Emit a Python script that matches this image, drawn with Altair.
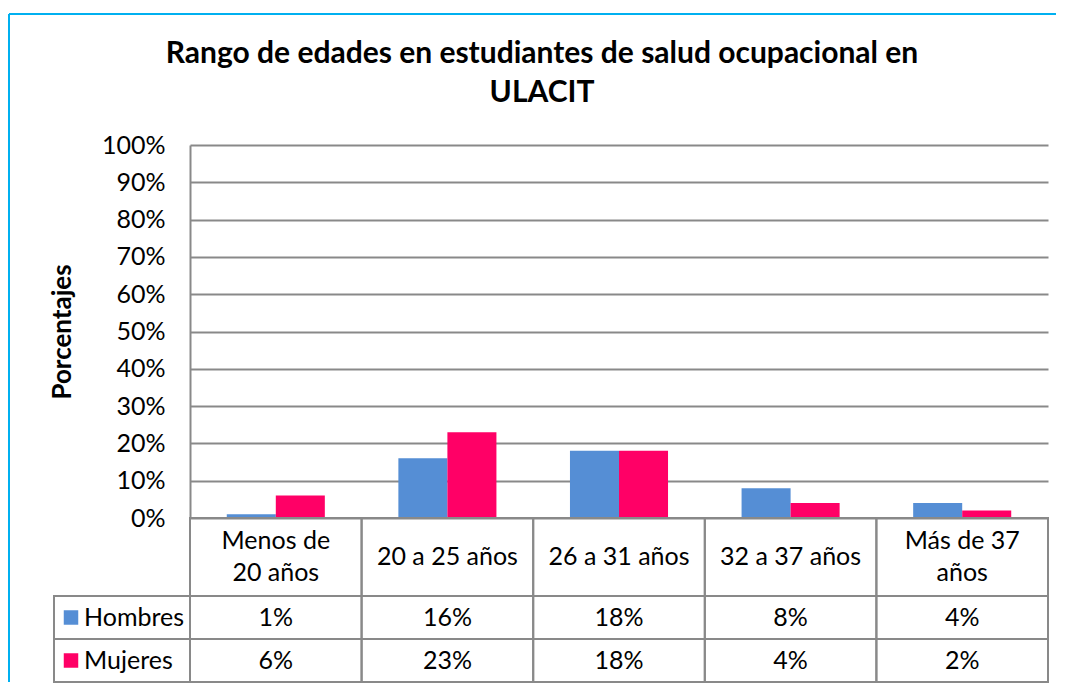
import altair as alt
import pandas as pd

# ---- data ----
categories = ["Menos de\n20 años", "20 a 25 años", "26 a 31 años", "32 a 37 años", "Más de 37\naños"]
series = ["Hombres", "Mujeres"]
hombres = [0.01, 0.16, 0.18, 0.08, 0.04]
mujeres = [0.06, 0.23, 0.18, 0.04, 0.02]
y_ticks = [0.0, 0.1, 0.2, 0.3, 0.4, 0.5, 0.6, 0.7, 0.8, 0.9, 1.0]
colors = ["#558ED5", "#FF0066"]
title_lines = ["Rango de edades en estudiantes de salud ocupacional en", "ULACIT"]
y_title = "Porcentajes"

rows = []
for s, vals in zip(series, [hombres, mujeres]):
    for c, v in zip(categories, vals):
        rows.append({"category": c, "series": s, "value": v})
df = pd.DataFrame(rows)
cat_df = pd.DataFrame({"category": categories})
ser_df = pd.DataFrame({"series": series})
one = pd.DataFrame({"k": [0]})

GRID = "#898989"
FRAME = "#00B0F0"
FS = 25
W, H = 858, 373
CAT_TOP, CAT_BOT, TAB_BOT = 373, 451, 537

x_enc = alt.X("category:N", sort=categories,
              scale=alt.Scale(domain=categories, paddingInner=0, paddingOuter=0),
              axis=None)
ys = alt.Y("series:N", sort=series,
           scale=alt.Scale(domain=series, range=[CAT_BOT, TAB_BOT], paddingInner=0, paddingOuter=0),
           axis=None)
color_enc = alt.Color("series:N", scale=alt.Scale(domain=series, range=colors), legend=None)

bars = alt.Chart(df).mark_bar().encode(
    x=x_enc,
    xOffset=alt.XOffset("series:N", sort=series,
                        scale=alt.Scale(domain=series, paddingInner=0, paddingOuter=0.75)),
    y=alt.Y("value:Q", scale=alt.Scale(domain=[0, 1]),
            axis=alt.Axis(values=y_ticks, format=".0%", title=y_title,
                          labelFontSize=FS, labelColor="black", labelPadding=25,
                          ticks=False, domainColor=GRID, domainWidth=2,
                          gridColor=GRID, gridWidth=2, grid=True,
                          titleFontSize=26, titleFontWeight="bold", titleColor="black",
                          titleAngle=270, titleX=-128, titleY=186.5,
                          titleAlign="center", titleBaseline="middle")),
    color=color_enc,
)

cat_mid = (CAT_TOP + CAT_BOT) / 2
cat_cells = alt.Chart(cat_df).mark_rect(filled=False, stroke=GRID, strokeWidth=2).encode(
    x=x_enc, y=alt.value(CAT_TOP), y2=alt.value(CAT_BOT))
cat_text_1 = alt.Chart(cat_df).transform_filter(
    "indexof(datum.category, '\\n') < 0"
).mark_text(fontSize=FS, color="black").encode(
    x=x_enc, y=alt.value(cat_mid), text="category:N")
cat_text_2 = alt.Chart(cat_df).transform_filter(
    "indexof(datum.category, '\\n') >= 0"
).mark_text(lineBreak="\n", lineHeight=32, fontSize=FS, color="black", dy=-16).encode(
    x=x_enc, y=alt.value(cat_mid), text="category:N")

val_cells = alt.Chart(df).mark_rect(filled=False, stroke=GRID, strokeWidth=2).encode(x=x_enc, y=ys)
val_text = alt.Chart(df).mark_text(fontSize=FS, color="black").encode(
    x=x_enc, y=ys, text=alt.Text("value:Q", format=".0%"))

leg_cells = alt.Chart(ser_df).mark_rect(filled=False, stroke=GRID, strokeWidth=2).encode(
    x=alt.value(-136), x2=alt.value(0), y=ys)
leg_sq = alt.Chart(ser_df).mark_square(size=210, opacity=1).encode(
    x=alt.value(-119), y=ys, color=color_enc)
leg_text = alt.Chart(ser_df).mark_text(align="left", fontSize=FS, color="black").encode(
    x=alt.value(-106), y=ys, text="series:N")

frame_top = alt.Chart(one).mark_rule(color=FRAME, strokeWidth=2).encode(
    x=alt.value(-181), x2=alt.value(866), y=alt.value(-131))
frame_left = alt.Chart(one).mark_rule(color=FRAME, strokeWidth=2).encode(
    x=alt.value(-181), y=alt.value(-131), y2=alt.value(TAB_BOT))

title = alt.Chart(one).mark_text(fontSize=30, fontWeight="bold", lineHeight=39,
                                 baseline="middle", color="black").encode(
    x=alt.value(352), y=alt.value(-91), text=alt.value(title_lines))

chart = alt.layer(
    bars, cat_cells, cat_text_1, cat_text_2, val_cells, val_text, leg_cells, leg_sq, leg_text,
    frame_top, frame_left, title
).resolve_scale(y="independent").properties(
    width=W, height=H,
    padding={"left": 0, "top": 5, "right": 0, "bottom": 0},
    background="white",
).configure(font="Lato").configure_view(stroke=None)

chart.save("out.html", embed_options={"renderer": "svg", "actions": False})
